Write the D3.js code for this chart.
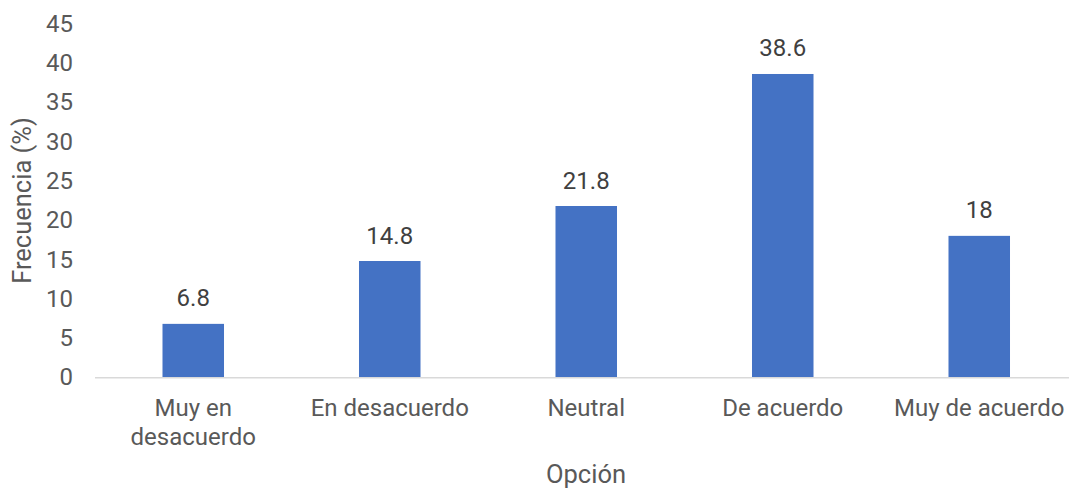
<!DOCTYPE html>
<html>
<head>
<meta charset="utf-8">
<script src="https://cdn.jsdelivr.net/npm/d3@7"></script>
<style>
  body { margin: 0; background: #fff; }
  text { font-family: Roboto, "Noto Sans", sans-serif; }
</style>
</head>
<body>
<script>
// data
const categories = ["Muy en desacuerdo", "En desacuerdo", "Neutral", "De acuerdo", "Muy de acuerdo"];
const values = [6.8, 14.8, 21.8, 38.6, 18];
const yTicks = [0, 5, 10, 15, 20, 25, 30, 35, 40, 45];

var width = 1069,
    height = 488;

var svg = d3.select("body").append("svg")
    .attr("width", width)
    .attr("height", height);

var x = d3.scaleBand()
    .domain(categories)
    .range([95, 1077.5])
    .paddingInner(0.687)
    .paddingOuter(0.3435);

var y = d3.scaleLinear()
    .domain([0, 45])
    .range([377.3, 23.7]);

// y axis labels (no line, no ticks)
var yAxis = svg.append("g")
    .attr("transform", "translate(73,0)")
    .call(d3.axisLeft(y).tickValues(yTicks).tickSize(0).tickPadding(0));
yAxis.select(".domain").remove();
yAxis.selectAll("text")
    .attr("fill", "#595959")
    .style("font-size", "24px")
    .style("font-family", "Roboto");

// bars
svg.append("g").selectAll("rect")
    .data(values)
    .enter().append("rect")
    .attr("x", (d, i) => x(categories[i]))
    .attr("y", d => y(d))
    .attr("width", x.bandwidth())
    .attr("height", d => y(0) - y(d))
    .attr("fill", "#4472C4");

// x axis line
svg.append("line")
    .attr("x1", 95).attr("x2", width)
    .attr("y1", y(0) + 0.5).attr("y2", y(0) + 0.5)
    .attr("stroke", "#d9d9d9")
    .attr("stroke-width", 1.5);

// value labels
svg.append("g").selectAll("text")
    .data(values)
    .enter().append("text")
    .attr("x", (d, i) => x(categories[i]) + x.bandwidth() / 2)
    .attr("y", d => y(d) - 17.5)
    .attr("text-anchor", "middle")
    .attr("fill", "#404040")
    .style("font-size", "24px")
    .text(d => d);

// category labels, wrapped when too wide
var catG = svg.append("g");
categories.forEach(function (c, i) {
    var cx = x(c) + x.bandwidth() / 2;
    var t = catG.append("text")
        .attr("x", cx)
        .attr("y", 416)
        .attr("text-anchor", "middle")
        .attr("fill", "#595959")
        .style("font-size", "24px")
        .text(c);
    if (t.node().getComputedTextLength() > 175) {
        var words = c.split(" ");
        t.text(null);
        t.append("tspan").attr("x", cx).attr("dy", 0).text(words.slice(0, 2).join(" "));
        t.append("tspan").attr("x", cx).attr("dy", 29).text(words.slice(2).join(" "));
    }
});

// axis titles
svg.append("text")
    .attr("transform", "translate(31," + ((y(0) + y(45)) / 2) + ") rotate(-90)")
    .attr("text-anchor", "middle")
    .attr("fill", "#595959")
    .style("font-size", "25.5px")
    .text("Frecuencia (%)");

svg.append("text")
    .attr("x", 586)
    .attr("y", 483)
    .attr("text-anchor", "middle")
    .attr("fill", "#595959")
    .style("font-size", "25.5px")
    .text("Opción");
</script>
</body>
</html>
